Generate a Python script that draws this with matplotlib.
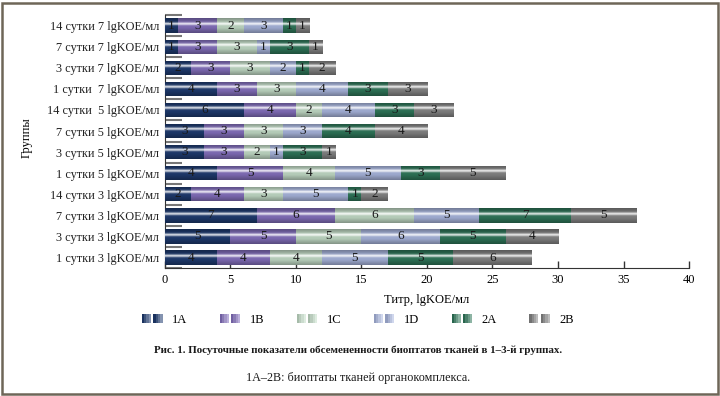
import numpy as np
import matplotlib
matplotlib.use("Agg")
import matplotlib.pyplot as plt
from matplotlib.patches import Rectangle
from matplotlib.legend_handler import HandlerBase
from matplotlib.colors import to_rgb

plt.rcParams['font.family'] = ['Liberation Serif', 'DejaVu Serif']

groups = ["1 сутки 3 lgKOE/мл", "3 сутки 3 lgKOE/мл", "7 сутки 3 lgKOE/мл",
          "14 сутки 3 lgKOE/мл", "1 сутки 5 lgKOE/мл", "3 сутки 5 lgKOE/мл",
          "7 сутки 5 lgKOE/мл", "14 сутки  5 lgKOE/мл", "1 сутки  7 lgKOE/мл",
          "3 сутки 7 lgKOE/мл", "7 сутки 7 lgKOE/мл", "14 сутки 7 lgKOE/мл"]
series_names = ["1A", "1B", "1C", "1D", "2A", "2B"]
s1A = [4, 5, 7, 2, 4, 3, 3, 6, 4, 2, 1, 1]
s1B = [4, 5, 6, 4, 5, 3, 3, 4, 3, 3, 3, 3]
s1C = [4, 5, 6, 3, 4, 2, 3, 2, 3, 3, 3, 2]
s1D = [5, 6, 5, 5, 5, 1, 3, 4, 4, 2, 1, 3]
s2A = [5, 5, 7, 1, 3, 3, 4, 3, 3, 1, 3, 1]
s2B = [6, 4, 5, 2, 5, 1, 4, 3, 3, 2, 1, 1]
series = [s1A, s1B, s1C, s1D, s2A, s2B]
colors = ["#1f3b70", "#8470bd", "#c3dcc7", "#a9b6de", "#2f775a", "#858585"]
x_ticks = [0, 5, 10, 15, 20, 25, 30, 35, 40]

fig = plt.figure(figsize=(7.2, 3.96), dpi=100)
fig.patch.set_facecolor("white")
ax = fig.add_axes([0.229, 0.323, 0.728, 0.639])

def vgrad(base, n=64):
    c = np.array(to_rgb(base))
    t = np.linspace(0, 1, n)
    hi = np.exp(-((t - 0.38) / 0.09) ** 2) * 0.85
    dark = 0.35 * np.clip(np.abs(t - 0.5) * 2 - 0.3, 0, 1) + 0.08
    rows = []
    for h, d in zip(hi, dark):
        col = c * (1 - d)
        col = col + (1 - col) * h
        rows.append(col)
    img = np.array(rows)[:, None, :]
    return np.clip(img, 0, 1)

y = np.arange(len(groups))
left = np.zeros(len(groups))
bar_h = 0.68
containers = []
for vals, col, name in zip(series, colors, series_names):
    bars = ax.barh(y, vals, left=left, height=bar_h, color=col, label=name,
                   edgecolor="none", zorder=2)
    containers.append(bars)
    g = vgrad(col)
    for p, v in zip(bars.patches, vals):
        x0, y0 = p.get_x(), p.get_y()
        w, h = p.get_width(), p.get_height()
        im = ax.imshow(g, extent=[x0, x0 + w, y0, y0 + h], origin="upper",
                       aspect="auto", zorder=3, interpolation="bilinear")
        im.set_clip_path(p)
        ax.text(x0 + w / 2, y0 + h / 2, str(v), ha="center", va="center",
                fontsize=9.5, color="#1a1a1a", zorder=4)
    left = left + np.array(vals)

ax.set_xlim(0, 40)
ax.set_ylim(-0.5, len(groups) - 0.5)
ax.set_xticks(x_ticks)
ax.set_xticklabels([str(v) for v in x_ticks], fontsize=9)
ax.set_yticks(np.arange(-0.5, len(groups), 1.0))
ax.set_yticklabels([])
ax.set_yticks(y, minor=True)
ax.set_yticklabels(groups, minor=True, fontsize=8.8, color="#222222")
ax.tick_params(axis="y", which="minor", length=0, pad=4)
ax.tick_params(axis="y", which="major", direction="in", length=12, width=1.5,
               color="#777777")
ax.tick_params(axis="x", direction="in", length=5, width=1, color="#333333",
               labelsize=9, pad=4)
for s in ["top", "right"]:
    ax.spines[s].set_visible(False)
ax.spines["left"].set_color("#333333")
ax.spines["bottom"].set_color("#333333")
ax.set_xlabel("Титр, lgKOE/мл", fontsize=9, labelpad=6)
ax.set_ylabel("Группы", fontsize=9)
ax.yaxis.set_label_coords(-0.252, 0.515)


class GradHandler(HandlerBase):
    def create_artists(self, legend, orig_handle, xdescent, ydescent, width,
                       height, fontsize, trans):
        base = np.array(to_rgb(orig_handle.patches[0].get_facecolor()))
        arts = []
        sq = height * 1.05
        gap = sq * 0.25
        for k in range(2):
            x0 = -xdescent + k * (sq + gap)
            nst = 4
            for j in range(nst):
                f = j / (nst - 1)
                col = base * (1 - 0.15) * (1 - f) + (base + (1 - base) * 0.45) * f
                r = Rectangle((x0 + j * sq / nst, -ydescent + (height - sq) / 2),
                              sq / nst, sq, facecolor=np.clip(col, 0, 1),
                              edgecolor="none", transform=trans)
                arts.append(r)
        return arts


fig.legend(containers, series_names, loc="center", bbox_to_anchor=(0.497, 0.192),
           ncol=6, frameon=False, fontsize=9,
           handler_map={c: GradHandler() for c in containers},
           handlelength=1.9, handletextpad=0.5, columnspacing=2.6)

fig.text(0.497, 0.115,
         "Рис. 1. Посуточные показатели обсемененности биоптатов тканей в 1–3-й группах.",
         ha="center", va="center", fontsize=7.9, fontweight="bold", color="#1a1a1a")
fig.text(0.497, 0.045, "1А–2В: биоптаты тканей органокомплекса.",
         ha="center", va="center", fontsize=8.7, color="#1a1a1a")

border = Rectangle((0.003, 0.006), 0.994, 0.986, transform=fig.transFigure,
                   fill=False, edgecolor="#6e6658", linewidth=1.8)
fig.patches.append(border)

fig.savefig("out.png", dpi=100)
